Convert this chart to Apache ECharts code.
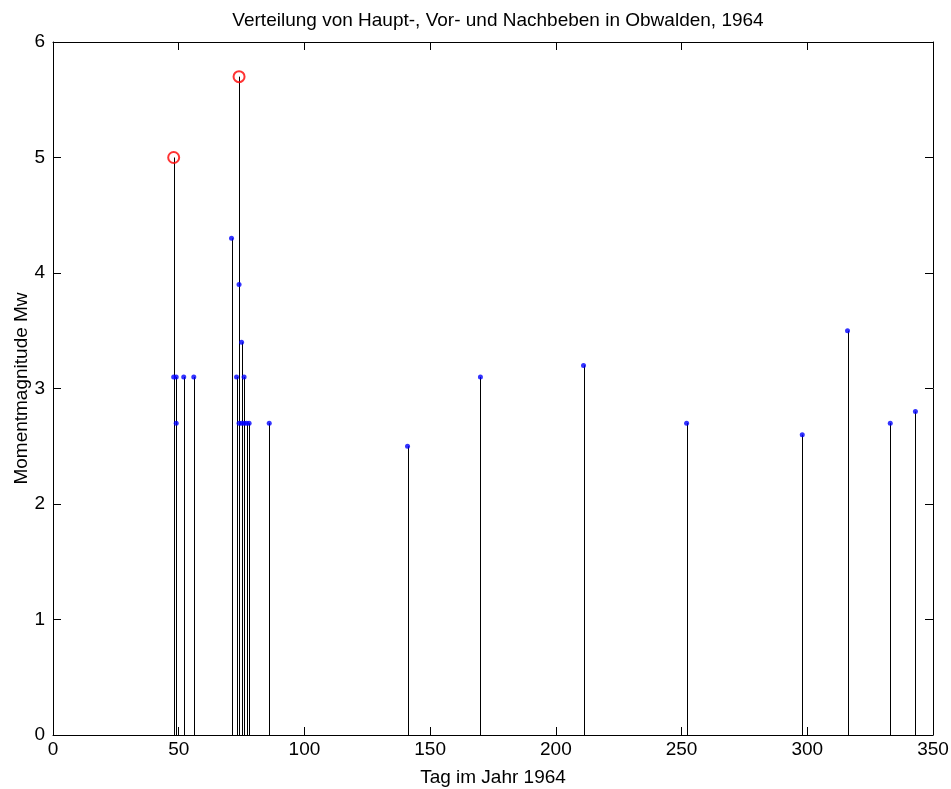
<!DOCTYPE html>
<html>
<head>
<meta charset="utf-8">
<script src="https://cdn.jsdelivr.net/npm/echarts@6/dist/echarts.min.js"></script>
<style>
  html, body { margin: 0; padding: 0; background: #fff; }
  #chart { width: 951px; height: 789px; }
</style>
</head>
<body>
<div id="chart"></div>
<script>
// Vor- und Nachbeben (Tag im Jahr, Mw)
const eventDays = [48, 49, 49, 52, 56, 71, 73, 74, 74, 75, 75, 76, 76, 77, 78, 86, 141, 170, 211, 252, 298, 316, 333, 343];
const eventMags = [3.1, 3.1, 2.7, 3.1, 3.1, 4.3, 3.1, 3.9, 2.7, 3.4, 2.7, 3.1, 2.7, 2.7, 2.7, 2.7, 2.5, 3.1, 3.2, 2.7, 2.6, 3.5, 2.7, 2.8];
// Hauptbeben
const mainDays = [48, 74];
const mainMags = [5.0, 5.7];
const xTicks = [0, 50, 100, 150, 200, 250, 300, 350];
const yTicks = [0, 1, 2, 3, 4, 5, 6];

const FONT = 'Liberation Sans';

let chartDom = document.querySelector('#chart');
let myChart = echarts.init(chartDom);

const eventData = eventDays.map((d, i) => [d, eventMags[i]]);
const mainData = mainDays.map((d, i) => [d, mainMags[i]]);
const stemData = mainData.concat(eventData);

const stemRender = (params, api) => {
    let p0 = api.coord([api.value(0), 0]);
    let p1 = api.coord([api.value(0), api.value(1)]);
    let x = Math.round(p0[0]) + 0.5;
    return {
        type: 'line',
        shape: { x1: x, y1: p0[1], x2: x, y2: p1[1] },
        style: { stroke: '#000', lineWidth: 1 },
    };
};

const axisCommon = {
    axisLine: { show: true, onZero: false, lineStyle: { color: '#000', width: 1 } },
    axisTick: { show: true, inside: true, length: 8, lineStyle: { color: '#000' } },
    splitLine: { show: false },
};

myChart.setOption({
    animation: false,
    backgroundColor: '#fff',
    title: {
        text: 'Verteilung von Haupt-, Vor- und Nachbeben in Obwalden, 1964',
        left: 493,
        textAlign: 'center',
        top: 6,
        textStyle: { fontFamily: FONT, fontSize: 19, fontWeight: 'normal', color: '#000' },
    },
    grid: { left: 53, right: 18, top: 42, bottom: 54, outerBoundsMode: 'none', containLabel: false },
    xAxis: [
        {
            type: 'value',
            min: 0,
            max: 350,
            interval: 50,
            name: 'Tag im Jahr 1964',
            nameLocation: 'middle',
            nameGap: 33,
            nameMoveOverlap: false,
            nameTextStyle: { fontFamily: FONT, fontSize: 19, color: '#000' },
            axisLabel: { fontFamily: FONT, fontSize: 19, color: '#000', margin: 5 },
            ...axisCommon,
        },
        {
            type: 'value',
            position: 'top',
            min: 0,
            max: 350,
            interval: 50,
            axisLabel: { show: false },
            ...axisCommon,
        },
    ],
    yAxis: [
        {
            type: 'value',
            min: 0,
            max: 6,
            interval: 1,
            name: 'Momentmagnitude Mw',
            nameLocation: 'middle',
            nameGap: 22,
            nameMoveOverlap: false,
            nameTextStyle: { fontFamily: FONT, fontSize: 19, color: '#000' },
            axisLabel: { fontFamily: FONT, fontSize: 19, color: '#000', margin: 8 },
            ...axisCommon,
        },
        {
            type: 'value',
            position: 'right',
            min: 0,
            max: 6,
            interval: 1,
            axisLabel: { show: false },
            ...axisCommon,
        },
    ],
    series: [
        {
            type: 'custom',
            renderItem: stemRender,
            data: stemData,
            z: 1,
        },
        {
            type: 'scatter',
            data: eventData,
            symbol: 'circle',
            symbolSize: 5,
            itemStyle: { color: '#0000ff' },
            z: 3,
        },
        {
            type: 'scatter',
            data: mainData,
            symbol: 'circle',
            symbolSize: 11,
            itemStyle: { color: 'transparent', borderColor: '#ff0000', borderWidth: 2 },
            z: 4,
        },
    ],
});
</script>
</body>
</html>
